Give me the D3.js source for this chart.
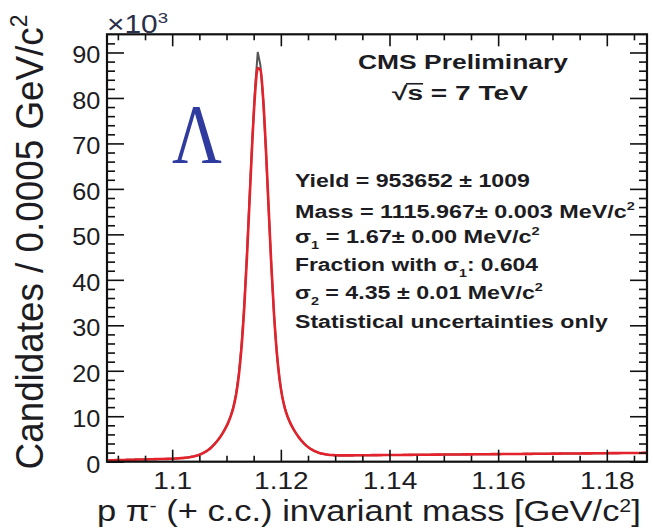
<!DOCTYPE html>
<html>
<head>
<meta charset="utf-8">
<script src="https://cdn.jsdelivr.net/npm/d3@7/dist/d3.min.js"></script>
<style>
  body { margin: 0; background: #fff; }
  svg { display: block; }
</style>
</head>
<body>
<div id="chart"></div>
<script>
// histogram binning (GeV)
const binStart = 1.088;
const binWidth = 0.0005;

// candidates per bin, x10^3 (data)
const dataCounts = [
  0.31,0.31,0.34,0.35,0.37,0.37,0.40,0.41,0.43,0.43,0.46,0.47,0.49,0.50,0.52,0.53,0.55,0.56,0.58,0.59,0.61,0.62,0.64,0.65,0.67,
  0.73,0.76,0.80,0.85,0.92,1.01,1.12,1.26,1.44,1.66,1.95,2.30,2.72,3.22,3.84,4.53,5.33,6.24,7.29,8.50,10.02,12.02,14.90,19.20,25.60,
  34.30,45.70,58.70,71.10,82.20,90.10,87.10,79.70,68.40,55.50,42.90,32.20,24.00,18.20,14.30,11.70,9.86,8.46,7.30,6.31,5.43,4.67,4.01,3.45,2.99,
  2.60,2.29,2.04,1.85,1.70,1.59,1.51,1.46,1.42,1.40,1.38,1.38,1.38,1.38,1.39,1.39,1.40,1.40,1.41,1.41,1.42,1.42,1.43,1.43,1.44,
  1.45,1.45,1.46,1.47,1.47,1.48,1.48,1.49,1.49,1.50,1.50,1.51,1.51,1.52,1.52,1.53,1.53,1.54,1.54,1.55,1.55,1.56,1.56,1.57,1.57,
  1.58,1.59,1.58,1.59,1.60,1.61,1.60,1.61,1.62,1.63,1.62,1.63,1.64,1.65,1.64,1.65,1.66,1.67,1.66,1.67,1.68,1.69,1.68,1.69,1.70,
  1.71,1.70,1.72,1.71,1.73,1.72,1.74,1.73,1.75,1.74,1.76,1.75,1.77,1.76,1.78,1.77,1.79,1.78,1.80,1.79,1.81,1.80,1.82,1.81,1.83,
  1.82,1.84,1.83,1.85,1.84,1.86,1.85,1.87,1.86,1.88,1.87,1.89,1.88,1.90,1.89,1.91,1.90,1.92,1.91,1.93,1.92,1.94,1.93,1.95
];

// fitted curve at bin centres, x10^3
const fitCounts = [
  0.30,0.32,0.33,0.35,0.36,0.38,0.39,0.41,0.42,0.44,0.45,0.47,0.48,0.50,0.51,0.53,0.54,0.56,0.57,0.59,0.60,0.62,0.63,0.65,0.66,
  0.72,0.75,0.79,0.84,0.91,0.99,1.11,1.24,1.42,1.64,1.93,2.27,2.69,3.19,3.80,4.49,5.28,6.19,7.23,8.42,9.90,11.84,14.62,18.77,24.91,
  33.55,44.70,57.58,70.43,80.84,86.55,86.14,79.73,68.86,55.91,43.20,32.37,24.09,18.27,14.37,11.74,9.89,8.49,7.33,6.34,5.46,4.70,4.04,3.48,3.02,
  2.63,2.32,2.07,1.88,1.73,1.62,1.54,1.48,1.44,1.42,1.40,1.39,1.39,1.39,1.40,1.40,1.41,1.41,1.42,1.42,1.43,1.43,1.44,1.44,1.45,
  1.45,1.46,1.46,1.47,1.47,1.48,1.48,1.49,1.49,1.50,1.50,1.51,1.51,1.52,1.52,1.53,1.53,1.54,1.54,1.55,1.55,1.56,1.56,1.57,1.57,
  1.58,1.58,1.59,1.59,1.60,1.60,1.61,1.61,1.62,1.62,1.63,1.63,1.64,1.64,1.65,1.65,1.66,1.66,1.67,1.67,1.68,1.68,1.69,1.69,1.70,
  1.70,1.71,1.71,1.72,1.72,1.73,1.73,1.74,1.74,1.75,1.75,1.76,1.76,1.77,1.77,1.78,1.78,1.79,1.79,1.80,1.80,1.81,1.81,1.82,1.82,
  1.83,1.83,1.84,1.84,1.85,1.85,1.86,1.86,1.87,1.87,1.88,1.88,1.89,1.89,1.90,1.90,1.91,1.91,1.92,1.92,1.93,1.93,1.94,1.94
];

const xMajor = [1.10, 1.12, 1.14, 1.16, 1.18];
const xMajorLabels = ["1.1", "1.12", "1.14", "1.16", "1.18"];
const xMinor = [1.09, 1.095, 1.105, 1.11, 1.115, 1.125, 1.13, 1.135, 1.145, 1.15, 1.155, 1.165, 1.17, 1.175, 1.185];
const yMajor = [0, 10, 20, 30, 40, 50, 60, 70, 80, 90];
const yMinor = [2,4,6,8,12,14,16,18,22,24,26,28,32,34,36,38,42,44,46,48,52,54,56,58,62,64,66,68,72,74,76,78,82,84,86,88,92];

// text pieces: [string, "sub" | "sup" | undefined]
const headerLines = [
  [["CMS Preliminary"]],
  [["√s = 7 TeV"]]
];
const infoLines = [
  [["Yield = 953652 ± 1009"]],
  [["Mass = 1115.967± 0.003 MeV/c"], ["2", "sup"]],
  [["σ"], ["1", "sub"], [" = 1.67± 0.00 MeV/c"], ["2", "sup"]],
  [["Fraction with σ"], ["1", "sub"], [": 0.604"]],
  [["σ"], ["2", "sub"], [" = 4.35 ± 0.01 MeV/c"], ["2", "sup"]],
  [["Statistical uncertainties only"]]
];
const xTitle = [["p π"], ["-", "sup"], [" (+ c.c.) invariant mass [GeV/c"], ["2", "sup"], ["]"]];
const yTitle = [["Candidates / 0.0005 GeV/c"], ["2", "sup"]];
const particle = "Λ";

const W = 653, H = 529;
const frame = { left: 107, right: 647, top: 34.3, bottom: 461.7 };
const sans = "'Liberation Sans', Arial, Helvetica, sans-serif";
const ink = "#1c1c22";

const svg = d3.select("#chart").append("svg")
  .attr("width", W).attr("height", H)
  .attr("viewBox", [0, 0, W, H]);

const x = d3.scaleLinear().domain([1.088, 1.1874]).range([frame.left, frame.right]);
const y = d3.scaleLinear().domain([0, 94]).range([frame.bottom, frame.top]);

svg.append("defs").append("clipPath").attr("id", "plotclip")
  .append("rect")
  .attr("x", frame.left).attr("y", frame.top)
  .attr("width", frame.right - frame.left).attr("height", frame.bottom - frame.top);

const binCenter = i => binStart + binWidth * (i + 0.5);

// data histogram
const plot = svg.append("g").attr("clip-path", "url(#plotclip)");
plot.append("path")
  .datum(dataCounts)
  .attr("fill", "none")
  .attr("stroke", "#555")
  .attr("stroke-width", 2)
  .attr("d", d3.line().x((d, i) => x(binCenter(i))).y(d => y(d)));

// fit
plot.append("path")
  .datum(fitCounts)
  .attr("fill", "none")
  .attr("stroke", "#e3222b")
  .attr("stroke-width", 2.6)
  .attr("stroke-linejoin", "round")
  .attr("d", d3.line().curve(d3.curveMonotoneX).x((d, i) => x(binCenter(i))).y(d => y(d)));

// axes (ticks pointing inward)
function styleAxis(g) {
  g.select(".domain").remove();
  g.selectAll(".tick line").attr("stroke", "#111").attr("stroke-width", 1.6);
  g.selectAll("text").attr("fill", ink).style("font-family", sans).style("font-size", "23px");
}

svg.append("g").attr("transform", `translate(0,${frame.bottom})`)
  .call(d3.axisBottom(x).tickValues(xMajor).tickSize(-12).tickPadding(11)
    .tickFormat((d, i) => xMajorLabels[i]))
  .call(styleAxis)
  .call(g => g.selectAll("text").attr("transform", "scale(1.22,1)"));
svg.append("g").attr("transform", `translate(0,${frame.bottom})`)
  .call(d3.axisBottom(x).tickValues(xMinor).tickSize(-6).tickFormat(""))
  .call(styleAxis);
svg.append("g").attr("transform", `translate(0,${frame.top})`)
  .call(d3.axisTop(x).tickValues(xMajor).tickSize(-12).tickFormat(""))
  .call(styleAxis);
svg.append("g").attr("transform", `translate(0,${frame.top})`)
  .call(d3.axisTop(x).tickValues(xMinor).tickSize(-6).tickFormat(""))
  .call(styleAxis);

svg.append("g").attr("transform", `translate(${frame.left},0)`)
  .call(d3.axisLeft(y).tickValues(yMajor).tickSize(-17).tickPadding(6).tickFormat(d3.format("d")))
  .call(styleAxis)
  .call(g => g.selectAll("text").attr("dy", "0.45em").attr("transform", "scale(1.1,1)"));
svg.append("g").attr("transform", `translate(${frame.left},0)`)
  .call(d3.axisLeft(y).tickValues(yMinor).tickSize(-8).tickFormat(""))
  .call(styleAxis);
svg.append("g").attr("transform", `translate(${frame.right},0)`)
  .call(d3.axisRight(y).tickValues(yMajor).tickSize(-17).tickFormat(""))
  .call(styleAxis);
svg.append("g").attr("transform", `translate(${frame.right},0)`)
  .call(d3.axisRight(y).tickValues(yMinor).tickSize(-8).tickFormat(""))
  .call(styleAxis);

svg.append("rect")
  .attr("x", frame.left).attr("y", frame.top)
  .attr("width", frame.right - frame.left).attr("height", frame.bottom - frame.top)
  .attr("fill", "none").attr("stroke", "#111").attr("stroke-width", 2.2);

// text helper: pieces placed at (x,y), stretched to a target width
function addText(pieces, o) {
  const g = svg.append("g")
    .attr("transform", `translate(${o.x},${o.y})` + (o.rotate ? ` rotate(${o.rotate})` : ""));
  const t = g.append("text")
    .attr("text-anchor", o.anchor || "start")
    .attr("fill", o.fill || ink)
    .style("font-family", o.family || sans)
    .style("font-size", o.size + "px")
    .style("font-weight", o.weight || "normal");
  const supShift = o.supShift || 0.42;
  let shift = 0;
  pieces.forEach(([s, kind]) => {
    const sp = t.append("tspan").text(s);
    let target = 0;
    if (kind === "sub") { target = 0.3 * o.size; sp.style("font-size", (0.62 * o.size) + "px"); }
    if (kind === "sup") { target = -supShift * o.size; sp.style("font-size", (0.62 * o.size) + "px"); }
    if (target - shift !== 0) sp.attr("dy", target - shift);
    shift = target;
  });
  let sx = 1;
  if (o.width) {
    sx = o.width / t.node().getComputedTextLength();
    t.attr("transform", `scale(${sx},1)`);
  }
  return { g, t, sx };
}

// x10^3 multiplier
addText([["×10"], ["3", "sup"]], { x: 107, y: 33, size: 25, width: 61, fill: "#2a2f4a" });

// axis titles
addText(xTitle, { x: 97, y: 521, size: 30, width: 544, supShift: 0.3 });
addText(yTitle, { x: 43, y: 242, size: 38, width: 455, anchor: "middle", rotate: -90 });

// Lambda
addText([[particle]], { x: 172, y: 163, size: 85, width: 50, family: "'Liberation Serif', 'Times New Roman', serif", fill: "#2f3b9e" });

// header
const headerPos = [{ x: 358, y: 69, w: 210 }, { x: 392, y: 100, w: 136 }];
headerLines.forEach((p, i) => {
  const r = addText(p, { x: headerPos[i].x, y: headerPos[i].y, size: 19.5, weight: "bold", width: headerPos[i].w });
  if (i === 1) {
    // overbar of the square root, over the "s"
    const a = r.t.node().getExtentOfChar(0), b = r.t.node().getExtentOfChar(1);
    r.g.append("line")
      .attr("x1", (a.x + a.width - 1) * r.sx).attr("x2", (b.x + b.width) * r.sx)
      .attr("y1", a.y + 1.5).attr("y2", a.y + 1.5)
      .attr("stroke", ink).attr("stroke-width", 1.6);
  }
});

// fit results
const infoY = [187, 218, 243, 271, 299, 328];
const infoW = [235, 340, 245, 243, 248, 313];
infoLines.forEach((p, i) => addText(p, { x: 295, y: infoY[i], size: 19, weight: "bold", width: infoW[i] }));
</script>
</body>
</html>
